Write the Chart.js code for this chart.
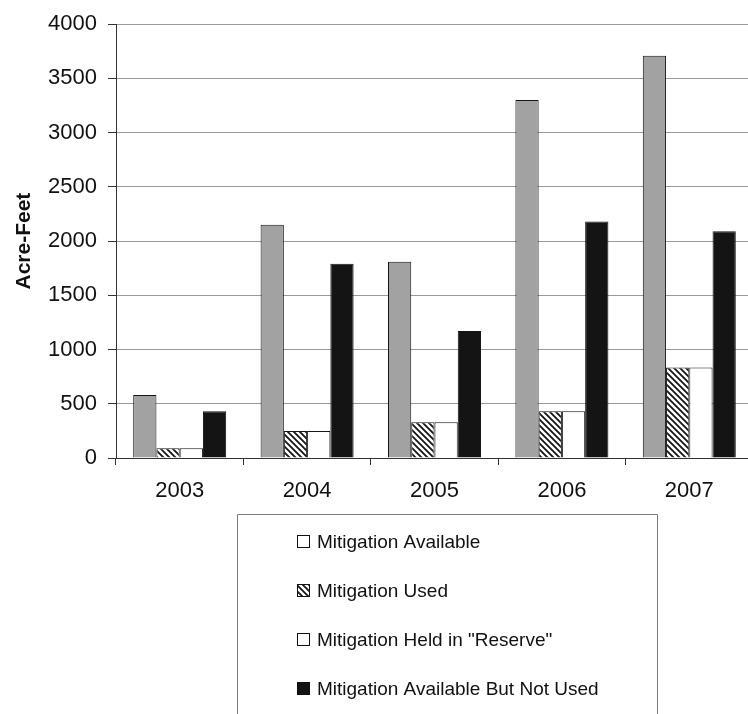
<!DOCTYPE html>
<html>
<head>
<meta charset="utf-8">
<script src="https://cdn.jsdelivr.net/npm/chart.js@4.4.1/dist/chart.umd.min.js"></script>
<style>
  html, body { margin: 0; padding: 0; background: #fff; overflow: hidden; width: 748px; height: 714px; }
  #wrap { position: relative; width: 760px; height: 714px; }
</style>
</head>
<body>
<div id="wrap"><canvas id="c" width="760" height="714"></canvas></div>
<script>
// Yearly mitigation totals, acre-feet
const years = ['2003', '2004', '2005', '2006', '2007'];
const seriesNames = [
  'Mitigation Available',
  'Mitigation Used',
  'Mitigation Held in "Reserve"',
  'Mitigation Available But Not Used'
];
const mitigationAvailable = [580, 2150, 1810, 3300, 3710];
const mitigationUsed = [90, 250, 330, 430, 835];
const mitigationReserve = [90, 250, 330, 430, 835];
const availableNotUsed = [430, 1790, 1170, 2180, 2090];
const yMin = 0, yMax = 4000, yStep = 500;

const canvas = document.getElementById('c');
const ctx = canvas.getContext('2d');
const FONT = '"Liberation Sans", Arial, Helvetica, sans-serif';

// diagonal "\" hatching used for the Mitigation Used bars
function hatchPattern() {
  const s = 6;
  const t = document.createElement('canvas');
  t.width = t.height = s;
  const g = t.getContext('2d');
  g.fillStyle = '#fff';
  g.fillRect(0, 0, s, s);
  g.strokeStyle = '#161616';
  g.lineWidth = 1.8;
  g.beginPath();
  g.moveTo(-1, -1); g.lineTo(s + 1, s + 1);
  g.moveTo(-1, s - 1); g.lineTo(1, s + 1);
  g.moveTo(s - 1, -1); g.lineTo(s + 1, 1);
  g.stroke();
  return ctx.createPattern(t, 'repeat');
}
const hatch = hatchPattern();

const barFills = ['#a2a2a2', hatch, '#ffffff', '#141414'];
const legendFills = ['#ffffff', hatch, '#ffffff', '#141414'];
const seriesValues = [mitigationAvailable, mitigationUsed, mitigationReserve, availableNotUsed];

// boxed, stacked legend under the plot
const legendBox = {
  id: 'legendBox',
  afterDraw(chart) {
    const c = chart.ctx;
    c.save();
    c.strokeStyle = '#7a7a7a';
    c.lineWidth = 1;
    c.beginPath();
    c.moveTo(237.5, 714);
    c.lineTo(237.5, 514.5);
    c.lineTo(657.5, 514.5);
    c.lineTo(657.5, 714);
    c.stroke();
    c.font = '19px ' + FONT;
    c.textBaseline = 'middle';
    c.textAlign = 'left';
    chart.data.datasets.forEach((ds, i) => {
      const y = 542 + i * 49;
      c.fillStyle = legendFills[i];
      c.fillRect(297.5, y - 6.5, 12, 12);
      c.strokeStyle = '#111';
      c.strokeRect(297.5, y - 6.5, 12, 12);
      c.fillStyle = '#111';
      c.fillText(ds.label, 317, y + 1);
    });
    c.restore();
  }
};

new Chart(canvas, {
  type: 'bar',
  data: {
    labels: years,
    datasets: seriesNames.map((name, i) => ({
      label: name,
      data: seriesValues[i],
      backgroundColor: barFills[i],
      borderColor: '#151515',
      borderWidth: 1,
      barPercentage: 1,
      categoryPercentage: 0.73
    }))
  },
  options: {
    responsive: false,
    animation: false,
    events: [],
    layout: { padding: { left: 0, top: 19, right: 7, bottom: 196 } },
    plugins: { legend: { display: false }, tooltip: { enabled: false } },
    scales: {
      x: {
        afterFit(s) { s.height = 60; },
        grid: { drawOnChartArea: false, drawTicks: true, tickLength: 7, tickColor: '#333', offset: true },
        border: { color: '#333', width: 1 },
        ticks: { color: '#111', font: { family: FONT, size: 22 }, padding: 13 }
      },
      y: {
        min: yMin,
        max: yMax,
        afterFit(s) { s.width = 116; },
        grid: { color: '#9a9a9a', lineWidth: 1, drawTicks: true, tickLength: 8, tickColor: '#333' },
        border: { color: '#333', width: 1 },
        ticks: {
          stepSize: yStep,
          color: '#111',
          font: { family: FONT, size: 22 },
          padding: 11,
          callback: (v) => String(v)
        },
        title: {
          display: true,
          text: 'Acre-Feet',
          color: '#111',
          font: { family: FONT, size: 21, weight: 'bold' },
          padding: { top: 12, bottom: 0 }
        }
      }
    }
  },
  plugins: [legendBox]
});
</script>
</body>
</html>
